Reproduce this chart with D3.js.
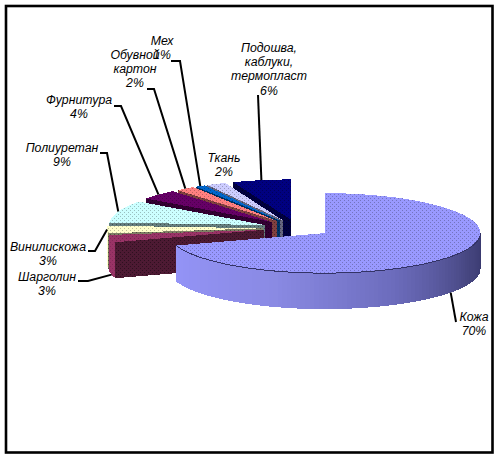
<!DOCTYPE html>
<html><head><meta charset="utf-8">
<script src="https://cdnjs.cloudflare.com/ajax/libs/d3/7.8.5/d3.min.js"></script>
<style>html,body{margin:0;padding:0;background:#fff}svg{display:block}
text{font-family:"Liberation Sans",Arial,sans-serif;font-style:italic;font-size:12.3px;fill:#000;text-anchor:middle}</style>
</head><body><div id="c"></div>
<script>
const categories=["Кожа","Шарголин","Винилискожа","Полиуретан","Фурнитура","Обувной картон","Мех","Ткань","Подошва, каблуки, термопласт"];
const values=[70,3,3,9,4,2,1,2,6];
const colors=["#9999FF","#993366","#FFFFCC","#CCFFFF","#660066","#FF8080","#0066CC","#CCCCFF","#000080"];
// label layout: text lines' centre x, first baseline, optional leader elbow [x0,x1,y]
const labelLines=[["Кожа"],["Шарголин"],["Винилискожа"],["Полиуретан"],["Фурнитура"],["Обувной","картон"],["Мех"],["Ткань"],["Подошва,","каблуки,","термопласт"]];
const labelX=[474,47,48,62,79,135,162,224,269];
const labelY=[321,281,251,152,104,59,45,162,52];
const elbows=[null,[78,88,281],[88,95,251],[100,107,153],[114,121,106],[147,154,89],[171,180,61],null,null];
const leaderStart=[[456,322],null,null,null,null,null,null,null,[258,95]];

const W=496,H=456,cx=297,cy=228,rx=156,ry=40,depth=36,explode=34/156;
const svg=d3.select("#c").append("svg").attr("width",W).attr("height",H);
const defs=svg.append("defs");
svg.append("rect").attr("x",6).attr("y",6).attr("width",486.5).attr("height",446.5)
  .attr("fill","#fff").attr("stroke","#000").attr("stroke-width",2.6);

const sx=d3.scaleLinear().domain([-1,1]).range([cx-rx,cx+rx]);
const sy=d3.scaleLinear().domain([-1,1]).range([cy+ry,cy-ry]);
const pie=d3.pie().sort(null).value(d=>d).startAngle(0).endAngle(2*Math.PI);
const arcs=pie(values).map((d,i)=>({...d,i,bis:(d.startAngle+d.endAngle)/2,color:colors[i]}));

function pt(s,a,r=1,z=0){
  return [sx(explode*Math.sin(s.bis)+r*Math.sin(a)), sy(explode*Math.cos(s.bis)+r*Math.cos(a))+z];
}
function samples(a0,a1){const n=Math.max(2,Math.ceil((a1-a0)/0.03));return d3.range(n+1).map(k=>a0+(a1-a0)*k/n);}
const line=d3.line().curve(d3.curveLinear);
function shade(c,f){const q=d3.rgb(c);return d3.rgb(q.r*f,q.g*f,q.b*f).formatHex();}
let pid=0;
function dither(c,f){
  const id="p"+(pid++);
  const p=defs.append("pattern").attr("id",id).attr("width",4).attr("height",4).attr("patternUnits","userSpaceOnUse");
  p.append("rect").attr("width",4).attr("height",4).attr("fill",c);
  const dot=shade(c,f);
  p.append("rect").attr("x",0).attr("y",0).attr("width",1).attr("height",1).attr("fill",dot);
  p.append("rect").attr("x",2).attr("y",2).attr("width",1).attr("height",1).attr("fill",dot);
  return `url(#${id})`;
}
const g=svg.append("g").attr("shape-rendering","crispEdges");
const wallScale=d3.scaleLinear().domain([Math.PI*1.4,Math.PI*1.1,Math.PI*0.85,Math.PI*0.62,Math.PI*0.5])
  .range(["#9494F8","#8A8AE4","#6C6CBC","#45457F","#3A3A70"]);

function drawSlice(s){
  const a0=s.startAngle,a1=s.endAngle;
  if(a0>Math.PI){
    const poly=[pt(s,a0),pt(s,a0,0),pt(s,a0,0,depth),pt(s,a0,1,depth)];
    g.append("path").attr("d",line(poly)+"Z").attr("fill",dither(shade(s.color,0.5),0.6));
  }
  const w0=Math.max(a0,Math.PI/2),w1=Math.min(a1,Math.PI*1.5);
  if(w1>w0){
    if(s.i===0){
      const as=samples(w0,w1);
      for(let k=0;k<as.length-1;k++){
        const poly=[pt(s,as[k]),pt(s,as[k+1]+.004),pt(s,as[k+1]+.004,1,depth),pt(s,as[k],1,depth)];
        g.append("path").attr("d",line(poly)+"Z").attr("fill",wallScale(as[k]));
      }
    }else{
      const as=samples(w0,w1);
      const poly=as.map(a=>pt(s,a)).concat(as.slice().reverse().map(a=>pt(s,a,1,depth)));
      g.append("path").attr("d",line(poly)+"Z").attr("fill",dither(s.color,0.85));
    }
  }
  const top=[pt(s,a0,0)].concat(samples(a0,a1).map(a=>pt(s,a)));
  g.append("path").attr("d",line(top)+"Z").attr("fill",dither(s.color,s.color==="#000080"?0.7:0.75));
  if(s.i===0){
    const edge=samples(w0,w1).map(a=>pt(s,a));
    g.append("path").attr("d",line(edge)).attr("fill","none").attr("stroke","#333366").attr("stroke-width",1);
  }
}
arcs.slice(1).reverse().forEach(drawSlice);
drawSlice(arcs[0]);

const lg=svg.append("g").attr("fill","none").attr("stroke","#000").attr("stroke-width",2);
arcs.forEach((s,i)=>{
  const e=elbows[i],st=leaderStart[i];
  if(!e&&!st)return;
  const front=Math.cos(s.bis)<-0.1 && s.bis<Math.PI*1.45;
  const end=pt(s,s.bis,1,front?depth:0);
  const pts=e?[[e[0],e[2]],[e[1],e[2]],end]:[st,end];
  lg.append("path").attr("d",line(pts));
});

const tg=svg.append("g");
arcs.forEach((s,i)=>{
  const lines=labelLines[i].concat([d3.format(".0f")(s.value)+"%"]);
  lines.forEach((t,k)=>{
    tg.append("text").attr("x",labelX[i]).attr("y",labelY[i]+k*14.2).text(t);
  });
});
</script></body></html>
